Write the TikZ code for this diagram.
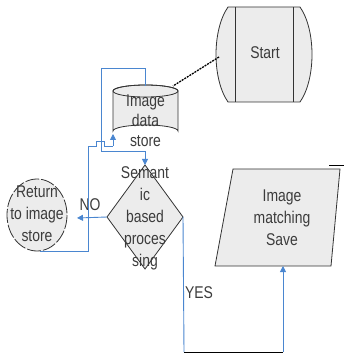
\documentclass[tikz,border=0pt]{standalone}
\usepackage{fontspec}
\setmainfont[FakeStretch=0.82]{Liberation Sans}
\usetikzlibrary{arrows.meta}
\definecolor{flow}{RGB}{74,134,208}
\definecolor{shapefill}{RGB}{236,236,236}
\definecolor{txt}{RGB}{60,60,60}
\tikzset{
  shapeline/.style={draw=black!80, line width=0.8pt, fill=shapefill},
  flowline/.style={draw=flow, line width=0.9pt},
  flowarrow/.style={flowline, -{Triangle[length=6pt,width=6pt]}},
  lbl/.style={text=txt, font=\fontsize{17}{22}\selectfont, align=center, inner sep=0pt},
}
\begin{document}
\begin{tikzpicture}[x=1pt,y=-1pt]
\useasboundingbox (0,0) rectangle (344,355);
% Start shape
\path[shapeline] (228,7) -- (300,7) .. controls (316,30) and (316,79) .. (300,102) -- (228,102) .. controls (212,79) and (212,30) .. (228,7) -- cycle;
\draw[black!80, line width=0.8pt] (235,7) -- (235,102) (293,7) -- (293,102);
\node[lbl] (start) at (265,53) {Start};
\coordinate (startL) at (219,57);
% cylinder
\path[shapeline] (113,91) -- (113,131) arc[start angle=180, end angle=360, x radius=32.5, y radius=6] -- (178,91) arc[start angle=0, end angle=-180, x radius=32.5, y radius=6] -- cycle;
\draw[black!80, line width=0.8pt] (145.5,91) ellipse[x radius=32.5, y radius=6];
\node[lbl, font=\fontsize{17}{20}\selectfont] (store) at (145.5,121) {Image\\data\\store};
\coordinate (cylTR) at (173,86);
\coordinate (cylTop) at (145,86);
\coordinate (cylBL) at (113,134);
% diamond
\path[shapeline] (145,165) -- (183,217) -- (145,269) -- (107,217) -- cycle;
\coordinate (dTop) at (145,165);
\coordinate (dL) at (107,217);
\coordinate (dR) at (183,217);
\node[lbl] (sem) at (145,218) {Semant\\ic\\based\\proces\\sing};
% Return ellipse
\path[shapeline, dash pattern=on 14pt off 2pt] (37,215) ellipse[x radius=30, y radius=36];
\node[lbl] (ret) at (37,214) {Return\\to image\\store};
\coordinate (retR) at (77,218);
\coordinate (retB) at (40,251);
% parallelogram
\path[shapeline] (233,169) -- (340,169) -- (331,266) -- (215,266) -- cycle;
\draw[black, line width=0.8pt] (329,165) -- (344,165);
\node[lbl] (save) at (282,218) {Image\\matching\\Save};
\coordinate (saveB) at (283,266);
% connectors
\draw[black, line width=1.3pt, dash pattern=on 2pt off 1pt] (startL) -- (cylTR);
\draw[flowarrow] (cylTop) -- (145,68) -- (101,68) -- (101,151) -- (145,151) -- (dTop);
\draw[flowarrow] (dL) -- (retR);
\node[lbl] (no) at (90,205) {NO};
\draw[flowline] (retB) -- (88,251) -- (88,146) -- (96,146) -- (96,141) -- (104,141) -- (104,146) -- (113,146);
\draw[flowarrow] (113,146) -- (cylBL);
\draw[flowline] (dR) -- (184,352);
\draw[black, line width=0.9pt] (184,352) -- (283,352);
\draw[flowarrow] (283,352) -- (saveB);
\node[lbl] (yes) at (199,293) {YES};
\end{tikzpicture}
\end{document}
